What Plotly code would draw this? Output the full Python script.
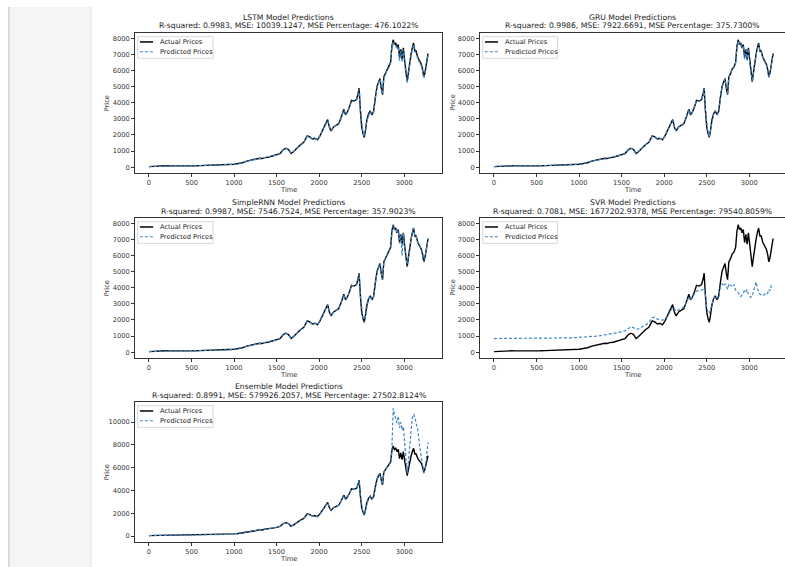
import plotly.graph_objects as go

# ---------------- data ----------------
time_idx = [0, 40, 80, 120, 160, 200, 250, 300, 350, 400,
            450, 500, 550, 600, 650, 700, 750, 800, 840, 870,
            900, 950, 1000, 1050, 1100, 1150, 1200, 1250, 1300, 1330,
            1360, 1400, 1450, 1500, 1540, 1580, 1610, 1640, 1670, 1700,
            1740, 1780, 1820, 1860, 1890, 1920, 1950, 1980, 2010, 2040,
            2070, 2100, 2120, 2140, 2170, 2200, 2230, 2260, 2290, 2310,
            2330, 2360, 2380, 2410, 2440, 2460, 2470, 2485, 2500, 2515,
            2530, 2545, 2560, 2580, 2600, 2620, 2640, 2660, 2680, 2700,
            2715, 2730, 2745, 2760, 2780, 2800, 2820, 2840, 2855, 2870,
            2885, 2900, 2915, 2930, 2945, 2960, 2975, 2990, 3005, 3020,
            3035, 3050, 3065, 3080, 3095, 3110, 3125, 3140, 3160, 3180,
            3200, 3215, 3230, 3245, 3260, 3280]

actual = [40, 55, 70, 85, 95, 90, 85, 80, 85, 75,
          80, 85, 90, 100, 110, 120, 130, 145, 150, 120,
          125, 150, 190, 230, 280, 380, 430, 470, 560, 540,
          600, 620, 700, 760, 850, 1100, 1180, 1100, 850, 980,
          1200, 1400, 1550, 1950, 1880, 1750, 1800, 1700, 1950, 2300,
          2600, 2950, 2500, 2250, 2500, 2600, 2700, 3100, 3600, 3250,
          3400, 3800, 4150, 4100, 4200, 4600, 4900, 3500, 2500, 2100,
          1850, 2300, 2900, 3300, 3500, 3250, 3450, 4300, 5000, 5300,
          5500, 4900, 4500, 5600, 5800, 6100, 6200, 6500, 7500, 7900,
          7600, 7700, 7400, 7600, 6800, 7300, 6700, 7400, 6600, 5800,
          5300, 5900, 6600, 7000, 7400, 7700, 7200, 7200, 6800, 6600,
          6400, 6100, 5600, 5900, 6400, 7050]

lstm_pred = [45, 55, 72, 84, 93, 91, 86, 82, 84, 78,
             80, 86, 92, 98, 112, 121, 128, 142, 148, 125,
             124, 148, 185, 228, 275, 370, 425, 468, 550, 545,
             595, 625, 695, 755, 840, 1080, 1170, 1110, 870, 970,
             1180, 1390, 1540, 1920, 1890, 1760, 1790, 1710, 1930, 2280,
             2580, 2900, 2550, 2280, 2480, 2590, 2690, 3050, 3550, 3280,
             3380, 3780, 4100, 4080, 4180, 4550, 4820, 3600, 2600, 2150,
             1900, 2250, 2850, 3250, 3480, 3280, 3420, 4250, 4950, 5250,
             5450, 4950, 4550, 5500, 5750, 6050, 6150, 6450, 7400, 7800,
             7550, 7600, 7300, 7500, 6600, 7200, 6500, 7300, 6400, 5700,
             5250, 5800, 6500, 6900, 7300, 7600, 7150, 7100, 6700, 6500,
             6300, 6000, 5500, 5800, 6300, 6950]

gru_pred = [42, 57, 69, 86, 96, 89, 84, 81, 86, 76,
            81, 84, 91, 101, 109, 119, 131, 143, 151, 122,
            126, 151, 188, 232, 282, 375, 432, 472, 555, 542,
            602, 618, 702, 762, 845, 1090, 1175, 1105, 860, 975,
            1190, 1395, 1545, 1930, 1885, 1755, 1795, 1705, 1940, 2290,
            2590, 2930, 2520, 2260, 2490, 2595, 2695, 3080, 3580, 3260,
            3390, 3790, 4130, 4090, 4190, 4580, 4870, 3550, 2550, 2120,
            1870, 2280, 2880, 3280, 3490, 3260, 3440, 4280, 4980, 5280,
            5480, 4920, 4520, 5560, 5780, 6080, 6180, 6480, 7450, 7850,
            7580, 7650, 7350, 7550, 6700, 7250, 6600, 7350, 6500, 5750,
            5280, 5850, 6550, 6950, 7350, 7650, 7180, 7150, 6750, 6550,
            6350, 6050, 5550, 5850, 6350, 7000]

rnn_pred = [44, 54, 71, 83, 94, 92, 85, 79, 84, 77,
            79, 86, 89, 99, 111, 121, 129, 144, 149, 124,
            123, 149, 186, 229, 278, 378, 428, 469, 558, 544,
            598, 622, 698, 758, 848, 1095, 1178, 1102, 855, 978,
            1195, 1398, 1548, 1940, 1882, 1752, 1798, 1702, 1945, 2295,
            2595, 2940, 2510, 2255, 2495, 2598, 2698, 3090, 3590, 3255,
            3395, 3795, 4140, 4095, 4195, 4590, 4880, 3520, 2530, 2110,
            1860, 2290, 2890, 3290, 3495, 3255, 3445, 4290, 4990, 5290,
            5490, 4910, 4510, 5580, 5790, 6090, 6190, 6490, 7480, 7880,
            7590, 7680, 7380, 7580, 6750, 7280, 6000, 7380, 6550, 5780,
            5290, 5880, 6580, 6980, 7380, 7680, 7190, 7180, 6780, 6580,
            6380, 6080, 5580, 5880, 6380, 7030]

svr_pred = [850, 850, 850, 850, 850, 850, 850, 850, 850, 850,
            850, 855, 860, 865, 870, 875, 880, 890, 895, 890,
            895, 905, 915, 930, 950, 975, 1000, 1030, 1070, 1090,
            1120, 1150, 1200, 1260, 1330, 1480, 1580, 1520, 1420, 1450,
            1560, 1700, 1820, 2150, 2180, 2050, 2000, 1980, 2080, 2250,
            2500, 2800, 2700, 2550, 2620, 2700, 2800, 3100, 3400, 3300,
            3400, 3650, 3800, 3800, 3850, 3900, 3950, 3600, 2800, 2500,
            2400, 2650, 3000, 3300, 3450, 3350, 3500, 4000, 4250, 4100,
            4250, 4000, 3900, 4250, 4150, 4050, 4200, 3850, 3800, 3700,
            3550, 3450, 3550, 3650, 3850, 3750, 3900, 3600, 3500, 3400,
            3500, 3800, 4100, 4350, 4000, 3700, 3600, 3550, 3500, 3600,
            3550, 3650, 3900, 3800, 4150, 4150]

ens_pred = [46, 56, 71, 85, 94, 90, 86, 81, 85, 77,
            81, 85, 91, 99, 110, 121, 130, 143, 149, 123,
            125, 149, 187, 230, 279, 376, 429, 470, 556, 543,
            599, 621, 699, 759, 846, 1092, 1176, 1104, 858, 976,
            1192, 1396, 1546, 1935, 1884, 1754, 1796, 1704, 1942, 2292,
            2592, 2935, 2515, 2258, 2492, 2596, 2696, 3085, 3585, 3258,
            3392, 3792, 4135, 4092, 4192, 4585, 4875, 3530, 2540, 2115,
            1865, 2285, 2885, 3285, 3492, 3258, 3442, 4285, 4985, 5285,
            5485, 4930, 4530, 5550, 5780, 6080, 6180, 6480, 7600, 11200,
            10700, 10300, 9900, 10500, 9500, 10000, 9300, 9600, 8200, 6300,
            5500, 6700, 8000, 9400, 10300, 10700, 10400, 9900, 9300, 8000,
            6800, 6100, 5500, 5900, 6700, 8200]

panel_names = ["LSTM", "GRU", "SimpleRNN", "SVR", "Ensemble"]
panel_preds = [lstm_pred, gru_pred, rnn_pred, svr_pred, ens_pred]
panel_stats = [
    "R-squared: 0.9983, MSE: 10039.1247, MSE Percentage: 476.1022%",
    "R-squared: 0.9986, MSE: 7922.6691, MSE Percentage: 375.7300%",
    "R-squared: 0.9987, MSE: 7546.7524, MSE Percentage: 357.9023%",
    "R-squared: 0.7081, MSE: 1677202.9378, MSE Percentage: 79540.8059%",
    "R-squared: 0.8991, MSE: 579926.2057, MSE Percentage: 27502.8124%",
]
x_ticks = [0, 500, 1000, 1500, 2000, 2500, 3000]
y_ticks_small = [0, 1000, 2000, 3000, 4000, 5000, 6000, 7000, 8000]
y_ticks_big = [0, 2000, 4000, 6000, 8000, 10000]

# ---------------- layout geometry ----------------
W, H = 785, 567
FONT = "DejaVu Sans"
TXT = "#333333"
BLUE = "#3f86c8"

col_x = [(135 / W, 442 / W), (480 / W, 1.0)]
col_xr = [[-164, 3444], [-164, 3420]]
row_y = [(1 - 173 / H, 1 - 33 / H), (1 - 358 / H, 1 - 218 / H), (1 - 542 / H, 1 - 402 / H)]
pos = [(0, 0), (0, 1), (1, 0), (1, 1), (2, 0)]

fig = go.Figure()
layout = dict(
    width=W, height=H,
    margin=dict(l=0, r=0, t=0, b=0),
    paper_bgcolor="white", plot_bgcolor="white",
    showlegend=False,
    font=dict(family=FONT, size=7, color=TXT),
)
shapes = []
annotations = []

# sidebar decoration
shapes.append(dict(type="rect", xref="paper", yref="paper", x0=8 / W, x1=91 / W,
                   y0=0, y1=1 - 7 / H, fillcolor="#f5f5f5", line=dict(width=0), layer="below"))
shapes.append(dict(type="line", xref="paper", yref="paper", x0=9 / W, x1=9 / W,
                   y0=0, y1=1 - 7 / H, line=dict(color="#c9d2dc", width=1.5), layer="below"))
shapes.append(dict(type="line", xref="paper", yref="paper", x0=91 / W, x1=91 / W,
                   y0=0, y1=1 - 7 / H, line=dict(color="#e2e2e2", width=1), layer="below"))

for i, (name, pred, stats) in enumerate(zip(panel_names, panel_preds, panel_stats)):
    k = i + 1
    sfx = "" if k == 1 else str(k)
    r, c = pos[i]
    xa, ya = "x" + sfx, "y" + sfx
    fig.add_trace(go.Scatter(x=time_idx, y=actual, mode="lines", name="Actual Prices",
                             line=dict(color="black", width=1.4), xaxis=xa, yaxis=ya))
    fig.add_trace(go.Scatter(x=time_idx, y=pred, mode="lines", name="Predicted Prices",
                             line=dict(color=BLUE, width=1.2, dash="3px,2px"),
                             xaxis=xa, yaxis=ya))
    big = (name == "Ensemble")
    yt = y_ticks_big if big else y_ticks_small
    layout["xaxis" + sfx] = dict(
        domain=list(col_x[c]), range=col_xr[c], anchor=ya,
        tickvals=x_ticks, ticktext=[str(v) for v in x_ticks],
        ticks="outside", ticklen=3, tickwidth=0.8, tickcolor="#333",
        showline=True, mirror=True, linecolor="#333", linewidth=0.8,
        showgrid=False, zeroline=False, tickfont=dict(family=FONT, size=6.7, color=TXT),
    )
    layout["yaxis" + sfx] = dict(
        domain=list(row_y[r]), range=[-520, 11760] if big else [-355, 8320], anchor=xa,
        tickvals=yt, ticktext=[str(v) for v in yt],
        ticks="outside", ticklen=3, tickwidth=0.8, tickcolor="#333",
        showline=True, mirror=True, linecolor="#333", linewidth=0.8,
        showgrid=False, zeroline=False, tickfont=dict(family=FONT, size=6.7, color=TXT),
    )
    xd, yd = xa + " domain", ya + " domain"
    # titles (two lines)
    annotations.append(dict(text=f"{name} Model Predictions", xref=xd, yref=yd, x=0.5, y=1 + 15.8 / 140,
                            xanchor="center", yanchor="middle", showarrow=False,
                            font=dict(family=FONT, size=7.7, color="#222")))
    annotations.append(dict(text=stats, xref=xd, yref=yd, x=0.5, y=1 + 7.0 / 140,
                            xanchor="center", yanchor="middle", showarrow=False,
                            font=dict(family=FONT, size=7.7, color="#222")))
    # axis titles
    annotations.append(dict(text="Price", xref=xd, yref=yd, x=-0.09, y=0.5, textangle=-90,
                            xanchor="center", yanchor="middle", showarrow=False,
                            font=dict(family=FONT, size=6.7, color=TXT)))
    annotations.append(dict(text="Time", xref=xd, yref=yd, x=0.5, y=-17 / 140,
                            xanchor="center", yanchor="middle", showarrow=False,
                            font=dict(family=FONT, size=6.7, color=TXT)))
    # legend box
    shapes.append(dict(type="rect", xref=xd, yref=yd, x0=0.009, x1=0.254, y0=0.819, y1=0.974,
                       fillcolor="rgba(255,255,255,0.85)", line=dict(color="#cfcfcf", width=0.8)))
    shapes.append(dict(type="line", xref=xd, yref=yd, x0=0.016, x1=0.059, y0=0.936, y1=0.936,
                       line=dict(color="black", width=1.5)))
    shapes.append(dict(type="line", xref=xd, yref=yd, x0=0.016, x1=0.059, y0=0.866, y1=0.866,
                       line=dict(color=BLUE, width=1.2, dash="3px,2px")))
    annotations.append(dict(text="Actual Prices", xref=xd, yref=yd, x=0.075, y=0.936,
                            xanchor="left", yanchor="middle", showarrow=False,
                            font=dict(family=FONT, size=6.6, color="#222")))
    annotations.append(dict(text="Predicted Prices", xref=xd, yref=yd, x=0.075, y=0.866,
                            xanchor="left", yanchor="middle", showarrow=False,
                            font=dict(family=FONT, size=6.6, color="#222")))

layout["shapes"] = shapes
layout["annotations"] = annotations
fig.update_layout(**layout)
fig.write_html("out.html", config={"displayModeBar": False})
